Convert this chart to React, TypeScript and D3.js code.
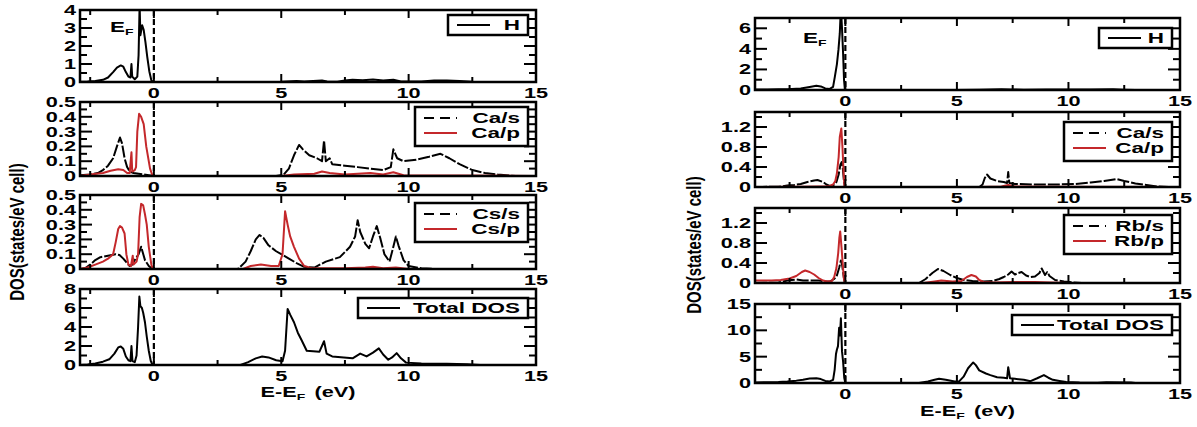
import React from 'react';
import * as d3 from 'd3';

type Pt = [number, number];

// ---- left figure: H / Ca / Cs projected DOS ----
const caH: Pt[] = [
  [-2.9, 0.02], [-2.6, 0.03], [-2.3, 0.06], [-2.0, 0.12], [-1.8, 0.25], [-1.6, 0.55], [-1.45, 0.8], [-1.3, 0.92],
  [-1.2, 0.85], [-1.1, 0.55], [-1.0, 0.3], [-0.92, 0.25], [-0.88, 1.0], [-0.85, 0.3], [-0.75, 0.15], [-0.65, 0.3],
  [-0.6, 1.5], [-0.56, 4.3], [-0.53, 2.6], [-0.46, 3.15], [-0.4, 2.9], [-0.33, 2.2], [-0.26, 1.4], [-0.18, 0.6],
  [-0.1, 0.1], [-0.04, 0], [4.5, 0], [5.0, 0.01], [5.6, 0.05], [5.9, 0.03], [6.6, 0.08], [6.8, 0.03], [7.2, 0.02],
  [7.5, 0.08], [7.8, 0.12], [8.2, 0.1], [8.6, 0.14], [9.0, 0.08], [9.4, 0.12], [9.7, 0.03], [10.5, 0.03], [11, 0.08],
  [11.5, 0.08], [12, 0.05], [12.5, 0.01], [15, 0],
];
const caS: Pt[] = [
  [-2.9, 0.005], [-2.5, 0.01], [-2.2, 0.02], [-2.0, 0.04], [-1.8, 0.07], [-1.6, 0.12], [-1.45, 0.2], [-1.33, 0.26],
  [-1.25, 0.22], [-1.15, 0.12], [-1.05, 0.06], [-0.95, 0.03], [-0.8, 0.02], [-0.6, 0.015], [-0.4, 0.01], [-0.2, 0.005],
  [0, 0], [4.8, 0], [5.1, 0.01], [5.3, 0.05], [5.5, 0.14], [5.7, 0.21], [5.85, 0.18], [6.1, 0.14], [6.4, 0.12],
  [6.6, 0.1], [6.68, 0.24], [6.75, 0.1], [6.9, 0.12], [7.0, 0.08], [7.5, 0.07], [8.0, 0.06], [8.5, 0.05], [9.0, 0.04],
  [9.3, 0.06], [9.4, 0.18], [9.55, 0.12], [9.8, 0.1], [10.3, 0.11], [10.8, 0.13], [11.25, 0.15], [11.6, 0.12],
  [12.0, 0.08], [12.5, 0.04], [13.0, 0.02], [13.5, 0.01], [14.2, 0],
];
const caP: Pt[] = [
  [-2.9, 0], [-2.5, 0.01], [-2.0, 0.02], [-1.7, 0.035], [-1.4, 0.045], [-1.2, 0.04], [-1.05, 0.02], [-0.95, 0.02],
  [-0.88, 0.16], [-0.85, 0.03], [-0.75, 0.04], [-0.7, 0.06], [-0.65, 0.3], [-0.58, 0.42], [-0.5, 0.4], [-0.4, 0.35],
  [-0.3, 0.2], [-0.15, 0.05], [-0.05, 0], [5, 0], [5.5, 0.01], [6.3, 0.015], [6.6, 0.03], [6.9, 0.02], [7.5, 0.01],
  [8.5, 0.02], [9.0, 0.01], [9.4, 0.025], [9.8, 0.005], [12, 0.003], [15, 0],
];
const csS: Pt[] = [
  [-2.9, 0], [-2.7, 0.005], [-2.5, 0.03], [-2.3, 0.06], [-2.1, 0.08], [-1.8, 0.09], [-1.5, 0.1], [-1.35, 0.095],
  [-1.2, 0.07], [-1.05, 0.04], [-0.95, 0.02], [-0.85, 0.03], [-0.75, 0.06], [-0.6, 0.1], [-0.5, 0.15], [-0.45, 0.12],
  [-0.35, 0.06], [-0.2, 0.02], [-0.05, 0], [3.3, 0], [3.6, 0.05], [3.8, 0.12], [4.0, 0.2], [4.15, 0.23], [4.3, 0.21],
  [4.5, 0.16], [4.8, 0.12], [5.0, 0.1], [5.3, 0.07], [5.6, 0.04], [5.9, 0.015], [6.3, 0.01], [6.75, 0.05], [7.3, 0.08],
  [7.7, 0.15], [7.9, 0.22], [8.0, 0.33], [8.1, 0.25], [8.3, 0.17], [8.45, 0.14], [8.6, 0.22], [8.75, 0.29], [8.9, 0.2],
  [9.05, 0.1], [9.25, 0.05], [9.4, 0.15], [9.5, 0.22], [9.6, 0.16], [9.8, 0.06], [10.0, 0.02], [10.5, 0.005], [11, 0],
];
const csP: Pt[] = [
  [-2.9, 0], [-2.6, 0.01], [-2.3, 0.03], [-2.0, 0.05], [-1.8, 0.07], [-1.6, 0.1], [-1.5, 0.18], [-1.4, 0.27],
  [-1.33, 0.29], [-1.25, 0.28], [-1.15, 0.24], [-1.08, 0.1], [-1.0, 0.03], [-0.9, 0.02], [-0.83, 0.09], [-0.8, 0.03],
  [-0.68, 0.05], [-0.62, 0.1], [-0.56, 0.35], [-0.5, 0.44], [-0.42, 0.43], [-0.35, 0.37], [-0.28, 0.3], [-0.2, 0.15],
  [-0.1, 0.03], [-0.04, 0], [3.5, 0], [3.8, 0.02], [4.2, 0.03], [4.6, 0.02], [4.9, 0.02], [5.05, 0.1], [5.15, 0.39],
  [5.25, 0.3], [5.35, 0.22], [5.5, 0.15], [5.7, 0.07], [5.9, 0.02], [6.2, 0.005], [7.5, 0.005], [8.3, 0.01],
  [8.6, 0.015], [9.0, 0.005], [9.5, 0.01], [10, 0],
];
const caTotal: Pt[] = [
  [-2.9, 0], [-2.6, 0.05], [-2.3, 0.15], [-2.0, 0.35], [-1.75, 0.6], [-1.55, 1.2], [-1.4, 1.85], [-1.3, 1.95],
  [-1.2, 1.7], [-1.1, 0.9], [-1.0, 0.5], [-0.92, 0.4], [-0.88, 2.0], [-0.84, 0.4], [-0.75, 0.3], [-0.68, 1.0],
  [-0.62, 4.0], [-0.57, 7.2], [-0.53, 6.2], [-0.47, 6.0], [-0.42, 5.5], [-0.35, 4.5], [-0.28, 3.0], [-0.2, 1.5],
  [-0.12, 0.4], [-0.05, 0], [3.4, 0], [3.7, 0.3], [4.0, 0.7], [4.25, 0.9], [4.5, 0.8], [4.8, 0.5], [5.05, 0.4],
  [5.15, 1.5], [5.25, 5.9], [5.35, 5.3], [5.5, 4.5], [5.65, 3.4], [5.8, 2.6], [6.0, 1.5], [6.5, 1.4], [6.68, 2.5],
  [6.78, 1.2], [7.0, 0.9], [7.8, 0.7], [8.1, 1.2], [8.35, 0.9], [8.6, 1.3], [8.83, 1.75], [9.0, 1.1], [9.2, 0.55],
  [9.35, 0.8], [9.53, 1.25], [9.7, 0.7], [9.9, 0.25], [10.5, 0.15], [11.5, 0.12], [12.3, 0.08], [12.8, 0],
];

// ---- right figure: H / Ca / Rb projected DOS ----
const rbH: Pt[] = [
  [-4.05, 0.05], [-3.5, 0.06], [-3.0, 0.08], [-2.6, 0.07], [-2.0, 0.15], [-1.6, 0.3], [-1.3, 0.42], [-1.1, 0.35],
  [-0.9, 0.15], [-0.7, 0.1], [-0.55, 0.3], [-0.47, 1.3], [-0.38, 2.5], [-0.31, 3.9], [-0.25, 5.5], [-0.2, 8],
  [-0.15, 6], [-0.1, 3.5], [-0.06, 1], [-0.02, 0], [5, 0], [6, 0.03], [7, 0.08], [7.4, 0.06], [8, 0.03], [9, 0.05],
  [10, 0.04], [11, 0.06], [12, 0.08], [12.5, 0.03], [13, 0],
];
const rbCaS: Pt[] = [
  [-4.05, 0], [-3.0, 0.005], [-2.6, 0.03], [-2.3, 0.04], [-2.0, 0.06], [-1.7, 0.1], [-1.4, 0.13], [-1.25, 0.14],
  [-1.0, 0.1], [-0.85, 0.05], [-0.7, 0.02], [-0.55, 0.03], [-0.4, 0.1], [-0.3, 0.25], [-0.22, 0.45], [-0.16, 0.5],
  [-0.12, 0.4], [-0.07, 0.15], [-0.02, 0], [6.0, 0], [6.15, 0.05], [6.25, 0.18], [6.35, 0.25], [6.5, 0.17],
  [6.8, 0.12], [7.1, 0.1], [7.25, 0.08], [7.3, 0.3], [7.35, 0.08], [7.6, 0.06], [8.5, 0.05], [9.5, 0.05],
  [10.3, 0.06], [11, 0.09], [11.6, 0.12], [12.15, 0.16], [12.5, 0.12], [13, 0.07], [13.5, 0.04], [14, 0.01], [14.5, 0],
];
const rbCaP: Pt[] = [
  [-4.05, 0], [-2, 0.005], [-1.2, 0.01], [-0.9, 0.01], [-0.7, 0.02], [-0.55, 0.05], [-0.45, 0.12], [-0.38, 0.27],
  [-0.3, 0.6], [-0.25, 1.0], [-0.18, 1.17], [-0.13, 0.8], [-0.08, 0.3], [-0.04, 0], [6, 0], [7, 0.01], [7.3, 0.04],
  [7.6, 0.01], [9, 0.005], [15, 0],
];
const rbS: Pt[] = [
  [-4.05, 0], [-3.0, 0.01], [-2.6, 0.05], [-2.4, 0.06], [-2.2, 0.07], [-1.9, 0.05], [-1.5, 0.05], [-1.2, 0.05],
  [-0.9, 0.03], [-0.7, 0.03], [-0.5, 0.08], [-0.38, 0.15], [-0.28, 0.3], [-0.2, 0.45], [-0.14, 0.35], [-0.08, 0.15],
  [-0.03, 0], [3.3, 0], [3.6, 0.08], [3.9, 0.2], [4.15, 0.28], [4.4, 0.24], [4.7, 0.16], [5.0, 0.1], [5.3, 0.06],
  [5.7, 0.04], [6.2, 0.03], [6.6, 0.04], [6.9, 0.08], [7.1, 0.12], [7.3, 0.17], [7.45, 0.23], [7.6, 0.17], [7.75, 0.2],
  [7.9, 0.22], [8.1, 0.15], [8.3, 0.12], [8.5, 0.13], [8.7, 0.2], [8.8, 0.29], [8.95, 0.16], [9.05, 0.22],
  [9.15, 0.14], [9.4, 0.06], [9.8, 0.03], [10.2, 0.01], [10.6, 0],
];
const rbP: Pt[] = [
  [-4.05, 0.05], [-3.3, 0.05], [-2.9, 0.06], [-2.5, 0.09], [-2.2, 0.14], [-1.95, 0.22], [-1.8, 0.25], [-1.6, 0.22],
  [-1.4, 0.17], [-1.2, 0.1], [-1.0, 0.05], [-0.8, 0.03], [-0.6, 0.04], [-0.5, 0.12], [-0.4, 0.3], [-0.32, 0.6],
  [-0.27, 0.9], [-0.23, 1.03], [-0.17, 0.7], [-0.12, 0.4], [-0.07, 0.1], [-0.02, 0], [3.5, 0], [4, 0.03], [4.3, 0.05],
  [4.8, 0.03], [5.2, 0.04], [5.45, 0.12], [5.65, 0.16], [5.85, 0.13], [6.0, 0.06], [6.2, 0.02], [6.6, 0.01],
  [7.5, 0.02], [8.5, 0.02], [9.2, 0.01], [10, 0],
];
const rbTotal: Pt[] = [
  [-4.05, 0.1], [-3.4, 0.15], [-3.0, 0.2], [-2.6, 0.3], [-2.2, 0.45], [-1.9, 0.6], [-1.6, 0.85], [-1.3, 0.9],
  [-1.1, 0.75], [-0.9, 0.4], [-0.7, 0.3], [-0.55, 0.6], [-0.48, 2.5], [-0.42, 5.5], [-0.38, 6.3], [-0.33, 7],
  [-0.28, 10.5], [-0.24, 9], [-0.2, 12.3], [-0.15, 6], [-0.1, 4], [-0.05, 1], [0, 0], [3.3, 0], [3.7, 0.3],
  [4.0, 0.6], [4.2, 0.8], [4.5, 0.6], [4.9, 0.3], [5.1, 0.3], [5.3, 1.2], [5.5, 2.8], [5.73, 3.9], [5.85, 3.4],
  [6.0, 2.4], [6.3, 1.8], [6.5, 1.5], [6.8, 1.1], [7.1, 1.0], [7.25, 0.9], [7.3, 3.0], [7.38, 0.9], [7.6, 0.8],
  [8.0, 0.6], [8.3, 0.35], [8.6, 0.9], [8.9, 1.5], [9.1, 1.0], [9.3, 0.6], [9.6, 0.4], [9.9, 0.2], [10.5, 0.1],
  [11.3, 0.05], [11.7, 0.12], [12.8, 0.1], [13.0, 0],
];

const xMajor = [0, 5, 10, 15];
const xMinor = [-2.5, 2.5, 7.5, 12.5];

const FONT = "'Liberation Sans', Arial, Helvetica, sans-serif";
const RED = '#c4282b';
const SX = 1.55; // the source figure is stretched sideways

type Series = { data: Pt[]; red?: boolean; dash?: boolean };
type Row = { label: string; red?: boolean; dash?: boolean };
type Plot = {
  top: number; bottom: number; yMax: number; step: number;
  series: Series[]; legend: { w: number; off: number; rows: Row[] };
};
type Panel = {
  x0: number; x1: number; domain: [number, number];
  xLabelY: number; yLabel: [number, number]; ef: [number, number]; plots: Plot[];
};

const panels: Panel[] = [
  {
    x0: 80, x1: 536, domain: [-2.9, 15], xLabelY: 397, yLabel: [24, 232], ef: [110, 32],
    plots: [
      { top: 10, bottom: 82, yMax: 4, step: 1, series: [{ data: caH }],
        legend: { w: 80, off: 5, rows: [{ label: 'H' }] } },
      { top: 102, bottom: 176, yMax: 0.5, step: 0.1, series: [{ data: caS, dash: true }, { data: caP, red: true }],
        legend: { w: 113, off: 5, rows: [{ label: 'Ca/s', dash: true }, { label: 'Ca/p', red: true }] } },
      { top: 195, bottom: 269, yMax: 0.5, step: 0.1, series: [{ data: csS, dash: true }, { data: csP, red: true }],
        legend: { w: 113, off: 8, rows: [{ label: 'Cs/s', dash: true }, { label: 'Cs/p', red: true }] } },
      { top: 289, bottom: 365, yMax: 8, step: 2, series: [{ data: caTotal }],
        legend: { w: 170, off: 9, rows: [{ label: 'Total DOS' }] } },
    ],
  },
  {
    x0: 755, x1: 1180, domain: [-4.05, 15], xLabelY: 416, yLabel: [701, 245], ef: [803, 43],
    plots: [
      { top: 18, bottom: 90, yMax: 7, step: 2, series: [{ data: rbH }],
        legend: { w: 73, off: 10, rows: [{ label: 'H' }] } },
      { top: 112, bottom: 187, yMax: 1.5, step: 0.4, series: [{ data: rbCaS, dash: true }, { data: rbCaP, red: true }],
        legend: { w: 108, off: 10, rows: [{ label: 'Ca/s', dash: true }, { label: 'Ca/p', red: true }] } },
      { top: 208, bottom: 283, yMax: 1.5, step: 0.4, series: [{ data: rbS, dash: true }, { data: rbP, red: true }],
        legend: { w: 108, off: 7, rows: [{ label: 'Rb/s', dash: true }, { label: 'Rb/p', red: true }] } },
      { top: 304, bottom: 383, yMax: 15, step: 5, series: [{ data: rbTotal }],
        legend: { w: 160, off: 11, rows: [{ label: 'Total DOS' }] } },
    ],
  },
];

function HText(props: { x: number; y: number; anchor?: string; size?: number; children: React.ReactNode }) {
  const { x, y, anchor = 'middle', size = 14, children } = props;
  return (
    <text transform={`translate(${x},${y}) scale(${SX},1)`} textAnchor={anchor} fontSize={size}
      fontWeight="bold" fontFamily={FONT} fill="#000">{children}</text>
  );
}

const fmt = (d: number) => String(+d.toFixed(2));

function SubPlot({ p, x, id }: { p: Plot; x: d3.ScaleLinear<number, number>; id: string }) {
  const y = d3.scaleLinear().domain([0, p.yMax]).range([p.bottom, p.top]);
  const [x0, x1] = x.range();
  const line = d3.line<Pt>().x(d => x(d[0])).y(d => y(d[1]));
  const major = d3.range(0, p.yMax + 1e-9, p.step);
  const minor = d3.range(p.step / 2, p.yMax + 1e-9, p.step);
  const lg = p.legend;
  const bx = x1 - 8 - lg.w;
  const by = p.top + lg.off;
  const bh = lg.rows.length > 1 ? 39 : 20;
  return (
    <g>
      <defs>
        <clipPath id={id}><rect x={x0} y={p.top} width={x1 - x0} height={p.bottom - p.top} /></clipPath>
      </defs>
      <g clipPath={`url(#${id})`}>
        <line x1={x(0)} x2={x(0)} y1={p.top} y2={p.bottom} stroke="#000" strokeWidth={2.2} strokeDasharray="6,3" />
        {p.series.map((s, i) => (
          <path key={i} d={line(s.data) || ''} fill="none" stroke={s.red ? RED : '#000'} strokeWidth={2}
            strokeDasharray={s.dash ? '12,2' : undefined} strokeLinejoin="round" />
        ))}
      </g>
      {/* ticks: y on both sides, x on top and bottom, all inward */}
      {major.map(v => (
        <g key={'ym' + v}>
          <line x1={x0} x2={x0 + 12} y1={y(v)} y2={y(v)} stroke="#000" strokeWidth={2} />
          <line x1={x1} x2={x1 - 12} y1={y(v)} y2={y(v)} stroke="#000" strokeWidth={2} />
          <HText x={x0 - 4} y={y(v) + 5} anchor="end">{fmt(v)}</HText>
        </g>
      ))}
      {minor.map(v => (
        <g key={'yn' + v}>
          <line x1={x0} x2={x0 + 7} y1={y(v)} y2={y(v)} stroke="#000" strokeWidth={2} />
          <line x1={x1} x2={x1 - 7} y1={y(v)} y2={y(v)} stroke="#000" strokeWidth={2} />
        </g>
      ))}
      {xMajor.map(v => (
        <g key={'xm' + v}>
          <line x1={x(v)} x2={x(v)} y1={p.bottom} y2={p.bottom - 8} stroke="#000" strokeWidth={2} />
          <line x1={x(v)} x2={x(v)} y1={p.top} y2={p.top + 8} stroke="#000" strokeWidth={2} />
          <HText x={x(v)} y={p.bottom + 16}>{fmt(v)}</HText>
        </g>
      ))}
      {xMinor.filter(v => v > x.domain()[0]).map(v => (
        <g key={'xn' + v}>
          <line x1={x(v)} x2={x(v)} y1={p.bottom} y2={p.bottom - 5} stroke="#000" strokeWidth={2} />
          <line x1={x(v)} x2={x(v)} y1={p.top} y2={p.top + 5} stroke="#000" strokeWidth={2} />
        </g>
      ))}
      <rect x={x0} y={p.top} width={x1 - x0} height={p.bottom - p.top} fill="none" stroke="#000" strokeWidth={2.5} />
      {/* legend */}
      <rect x={bx} y={by} width={lg.w} height={bh} fill="#fff" stroke="#000" strokeWidth={2.5} />
      {lg.rows.map((r, i) => {
        const ry = by + (lg.rows.length > 1 ? 11 + i * 15 : 10);
        return (
          <g key={r.label}>
            <line x1={bx + 9} x2={bx + 42} y1={ry} y2={ry} stroke={r.red ? RED : '#000'} strokeWidth={2}
              strokeDasharray={r.dash ? '10,6' : undefined} />
            <HText x={bx + lg.w - 8} y={ry + 5} anchor="end" size={14.5}>{r.label}</HText>
          </g>
        );
      })}
    </g>
  );
}

export default function App() {
  return (
    <svg width={1197} height={427} style={{ position: 'fixed', left: 0, top: 0, background: '#fff' }}>
      {panels.map((pn, k) => {
        const x = d3.scaleLinear().domain(pn.domain).range([pn.x0, pn.x1]);
        const cx = (pn.x0 + pn.x1) / 2;
        return (
          <g key={k}>
            {pn.plots.map((p, i) => <SubPlot key={i} p={p} x={x} id={`clip-${k}-${i}`} />)}
            <HText x={pn.ef[0]} y={pn.ef[1]} anchor="start" size={14.5}>
              E<tspan fontSize={9} dy={3}>F</tspan>
            </HText>
            <HText x={cx} y={pn.xLabelY} size={14}>
              E-E<tspan fontSize={9} dy={3}>F</tspan><tspan dy={-3} dx={6}>(eV)</tspan>
            </HText>
            <text transform={`translate(${pn.yLabel[0]},${pn.yLabel[1]}) rotate(-90) scale(1,1.35)`}
              textAnchor="middle" fontSize={15} fontWeight="bold" fontFamily={FONT}>
              DOS(states/eV cell)
            </text>
          </g>
        );
      })}
    </svg>
  );
}
